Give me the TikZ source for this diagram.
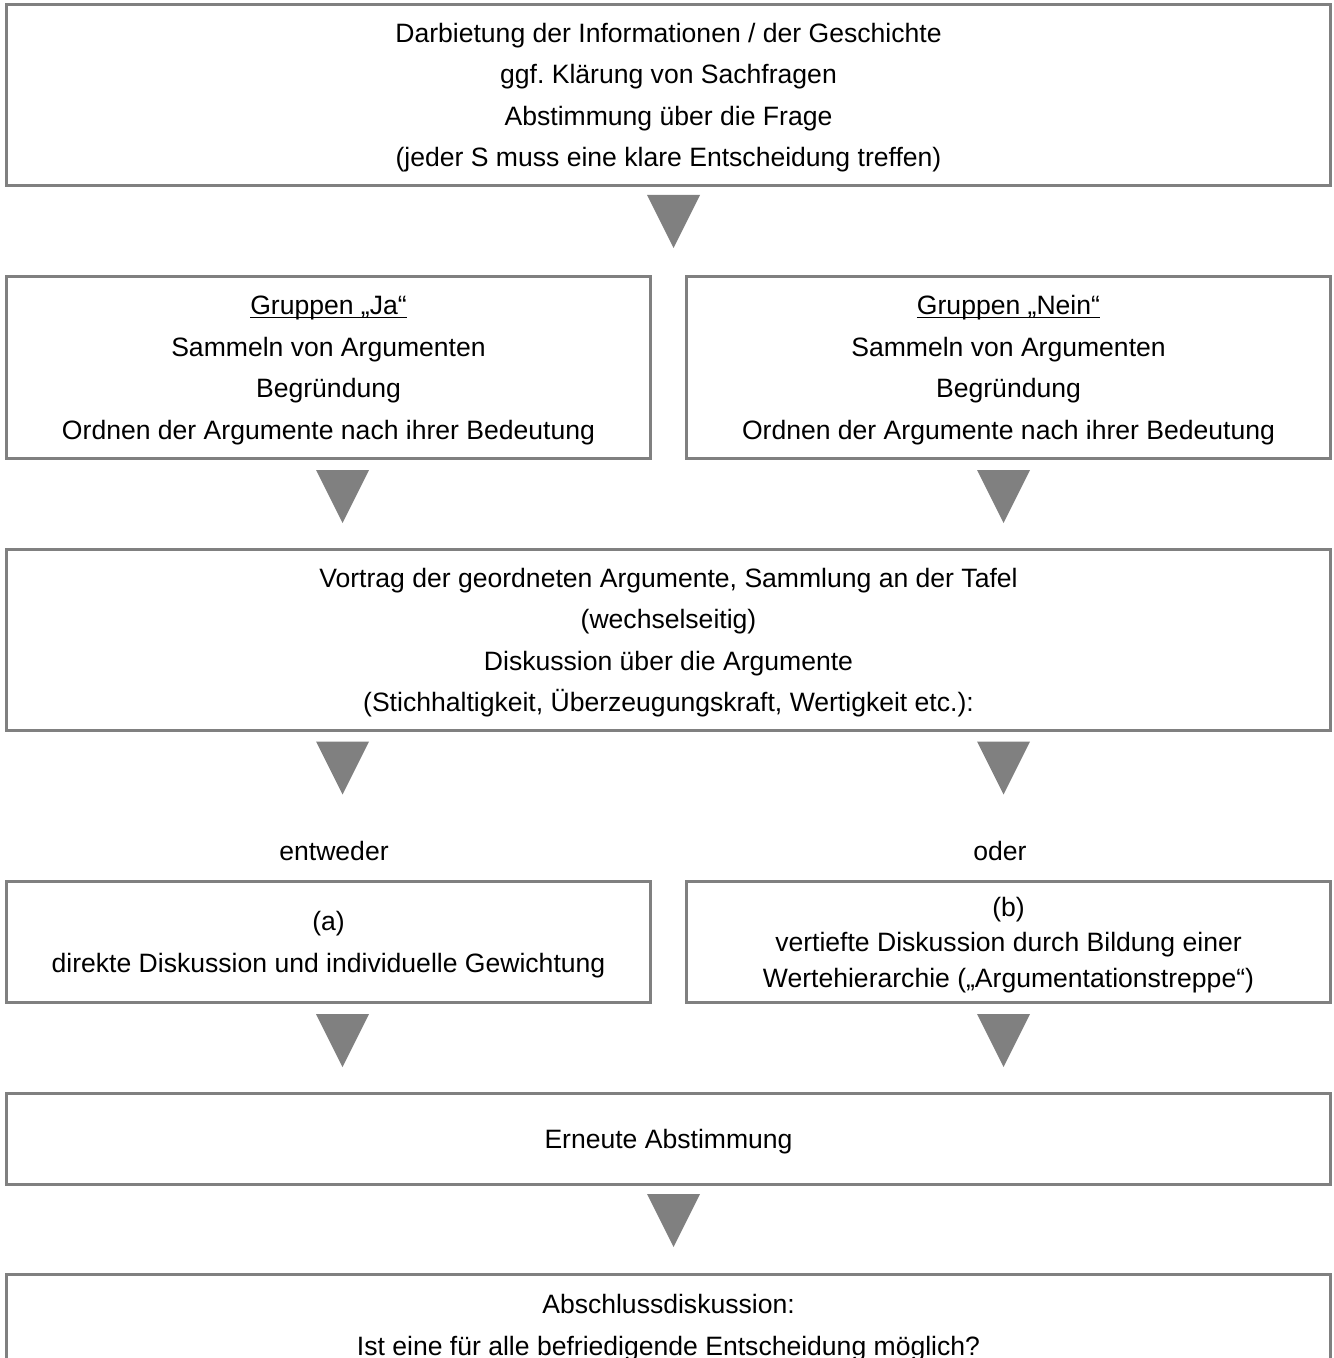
\documentclass[tikz,border=0pt]{standalone}
\usepackage{fontspec}
\setmainfont{Liberation Sans}
\usepackage{tikz}
\usetikzlibrary{positioning,calc}
\frenchspacing

\newcommand\grouphead[1]{\underline{\smash{#1}}\vphantom{#1}}

\begin{document}
\begin{tikzpicture}[
    x=0.5pt, y=-0.5pt,
    node distance=45.5pt and 18pt,
    phase/.style={rectangle, draw=gray, line width=1.5pt, outer sep=0pt, inner sep=0pt, align=center, text depth=0pt, font=\fontsize{13.28pt}{20.75pt}\selectfont},
    wide/.style={phase, minimum width=662pt},
    half/.style={phase, minimum width=322pt},
    pointer/.style={fill=gray, draw=none},
    choice/.style={font=\fontsize{13.28pt}{20.75pt}\selectfont},
]
\useasboundingbox (0,0) rectangle (1333,1358);

% Stages
\node[wide, minimum height=90.5pt] (info) at (668.5,95) {Darbietung der Informationen / der Geschichte\\ggf. Klärung von Sachfragen\\Abstimmung über die Frage\\(jeder S muss eine klare Entscheidung treffen)};
\node[half, minimum height=91pt, below=of info.south west, anchor=north west] (ja) {\grouphead{Gruppen „Ja“}\\Sammeln von Argumenten\\Begründung\\Ordnen der Argumente nach ihrer Bedeutung};
\node[half, minimum height=91pt, right=of ja] (nein) {\grouphead{Gruppen „Nein“}\\Sammeln von Argumenten\\Begründung\\Ordnen der Argumente nach ihrer Bedeutung};
\node[wide, minimum height=90.5pt, below=of ja.south west, anchor=north west] (vortrag) {Vortrag der geordneten Argumente, Sammlung an der Tafel\\(wechselseitig)\\Diskussion über die Argumente\\(Stichhaltigkeit, Überzeugungskraft, Wertigkeit etc.):};
\node[half, minimum height=60.5pt, below=75.5pt of vortrag.south west, anchor=north west] (direkt) {(a)\\direkte Diskussion und individuelle Gewichtung};
\node[half, minimum height=60.5pt, right=of direkt, font=\fontsize{13.28pt}{17.75pt}\selectfont] (vertieft) {(b)\\vertiefte Diskussion durch Bildung einer\\Wertehierarchie („Argumentationstreppe“)};
\node[wide, minimum height=45.5pt, below=of direkt.south west, anchor=north west] (erneut) {Erneute Abstimmung};
\node[wide, minimum height=50.5pt, below=45pt of erneut.south west, anchor=north west] (abschluss) {Abschlussdiskussion:\\Ist eine für alle befriedigende Entscheidung möglich?};

% Choice labels
\node[choice] (entweder) at (334,851) {entweder};
\node[choice] (oder) at (1000,851) {oder};

% Pointers
\coordinate (p1) at ($(info.south)+(5,9.5)$);
\coordinate (p2) at ($(ja.south)+(14,11.5)$);
\coordinate (p3) at ($(nein.south)+(-5,11.5)$);
\coordinate (p4) at ($(ja.south |- vortrag.south)+(14,11)$);
\coordinate (p5) at ($(nein.south |- vortrag.south)+(-5,11)$);
\coordinate (p6) at ($(direkt.south)+(14,11.5)$);
\coordinate (p7) at ($(vertieft.south)+(-5,11.5)$);
\coordinate (p8) at ($(erneut.south)+(5,9.5)$);
\foreach \p in {p1,p2,p3,p4,p5,p6,p7,p8}
  \fill[pointer] (\p) ++(-26.5,0) -- ++(53,0) -- ++(-26.5,53) -- cycle;

\end{tikzpicture}
\end{document}
